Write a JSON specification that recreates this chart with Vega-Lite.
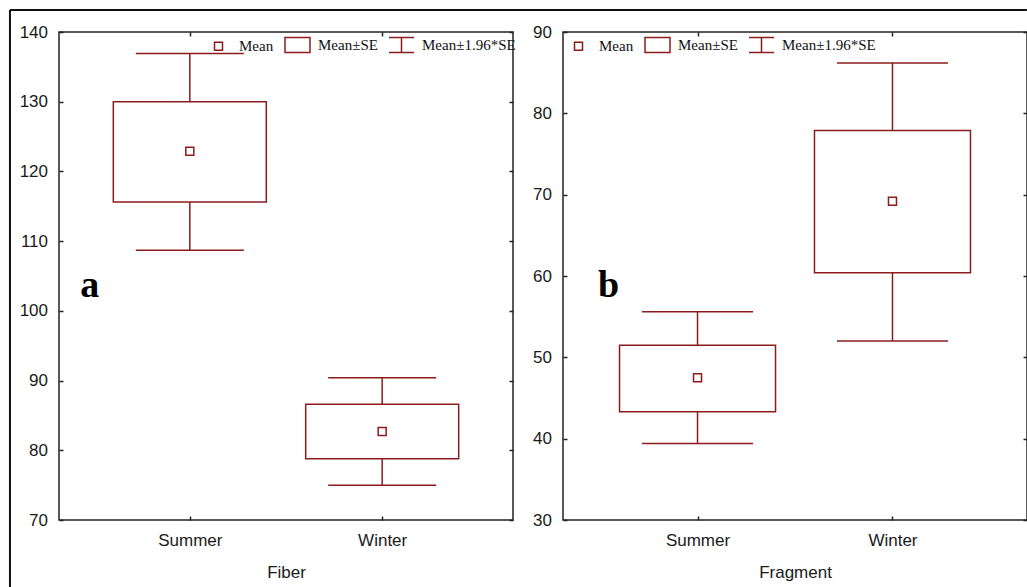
{
  "$schema": "https://vega.github.io/schema/vega-lite/v6.json",
  "background": "white",
  "padding": {"left": 8, "top": 8, "right": 0, "bottom": 0},
  "autosize": {"type": "pad"},
  "spacing": 50,
  "bounds": "flush",
  "resolve": {"scale": {"shape": "independent"}, "legend": {"shape": "independent"}},
  "datasets": {
    "fiber": [
      {"season": "Summer", "mean": 122.9, "se_lo": 115.6, "se_hi": 130.0, "ci_lo": 108.7, "ci_hi": 136.9},
      {"season": "Winter", "mean": 82.7, "se_lo": 78.8, "se_hi": 86.6, "ci_lo": 75.0, "ci_hi": 90.4}
    ],
    "fragment": [
      {"season": "Summer", "mean": 47.5, "se_lo": 43.3, "se_hi": 51.5, "ci_lo": 39.4, "ci_hi": 55.6},
      {"season": "Winter", "mean": 69.2, "se_lo": 60.4, "se_hi": 77.9, "ci_lo": 52.0, "ci_hi": 86.2}
    ]
  },
  "hconcat": [
    {
      "width": 454,
      "height": 488,
      "data": {"name": "fiber"},
      "resolve": {"scale": {"x": "independent"}, "axis": {"x": "independent", "y": "independent"}},
      "layer": [
        {
          "data": {"values": [{"part": "frame"}]},
          "layer": [
            {
              "mark": {"type": "rule", "clip": false, "color": "#111", "strokeWidth": 2},
              "encoding": {
                "x": {"datum": -0.108, "type": "quantitative", "scale": {"domain": [0, 1]}, "axis": null},
                "x2": {"datum": 2.132},
                "y": {"datum": 143.16, "type": "quantitative", "scale": {"domain": [70, 140]}, "axis": null}
              }
            },
            {
              "mark": {"type": "rule", "clip": false, "color": "#111", "strokeWidth": 2},
              "encoding": {
                "x": {"datum": -0.108, "type": "quantitative", "scale": {"domain": [0, 1]}, "axis": null},
                "y": {"datum": 143.16, "type": "quantitative", "scale": {"domain": [70, 140]}, "axis": null},
                "y2": {"datum": 60.4}
              }
            }
          ]
        },
        {
          "encoding": {
            "x": {"field": "season", "type": "nominal", "title": "Fiber",
                  "scale": {"type": "point", "padding": 0.68, "domain": ["Summer", "Winter"]},
                  "axis": {"orient": "bottom"}}
          },
          "layer": [
            {
              "mark": {"type": "rule", "color": "#8b1c1c", "strokeWidth": 1.5},
              "encoding": {
                "y": {"field": "se_hi", "type": "quantitative", "title": null, "scale": {"domain": [70, 140]}, "axis": {"values": [70, 80, 90, 100, 110, 120, 130, 140]}},
                "y2": {"field": "ci_hi"}
              }
            },
            {
              "mark": {"type": "rule", "color": "#8b1c1c", "strokeWidth": 1.5},
              "encoding": {
                "y": {"field": "ci_lo", "type": "quantitative", "title": null, "scale": {"domain": [70, 140]}, "axis": {"values": [70, 80, 90, 100, 110, 120, 130, 140]}},
                "y2": {"field": "se_lo"}
              }
            },
            {
              "mark": {"type": "tick", "orient": "horizontal", "color": "#8b1c1c", "size": 108, "thickness": 1.5, "opacity": 1},
              "encoding": {
                "y": {"field": "ci_hi", "type": "quantitative", "title": null, "scale": {"domain": [70, 140]}, "axis": {"values": [70, 80, 90, 100, 110, 120, 130, 140]}}
              }
            },
            {
              "mark": {"type": "tick", "orient": "horizontal", "color": "#8b1c1c", "size": 108, "thickness": 1.5, "opacity": 1},
              "encoding": {
                "y": {"field": "ci_lo", "type": "quantitative", "title": null, "scale": {"domain": [70, 140]}, "axis": {"values": [70, 80, 90, 100, 110, 120, 130, 140]}}
              }
            },
            {
              "mark": {"type": "bar", "size": 153, "fill": "white", "stroke": "#8b1c1c", "strokeWidth": 1.5},
              "encoding": {
                "y": {"field": "se_lo", "type": "quantitative", "title": null, "scale": {"domain": [70, 140]}, "axis": {"values": [70, 80, 90, 100, 110, 120, 130, 140]}},
                "y2": {"field": "se_hi"}
              }
            },
            {
              "mark": {"type": "point", "filled": false, "color": "#8b1c1c", "size": 625, "strokeWidth": 1.5, "opacity": 1},
              "encoding": {
                "y": {"field": "mean", "type": "quantitative", "title": null, "scale": {"domain": [70, 140]}, "axis": {"values": [70, 80, 90, 100, 110, 120, 130, 140]}},
                "shape": {
                  "datum": "Mean", "type": "nominal",
                  "scale": {
                    "domain": ["Mean", "Mean±SE", "Mean±1.96*SE"],
                    "range": [
                      "M-0.32,-0.32L0.32,-0.32L0.32,0.32L-0.32,0.32Z",
                      "M-1,-0.6L1,-0.6L1,0.6L-1,0.6Z",
                      "M-1,-0.6L1,-0.6M0,-0.6L0,0.6M-1,0.6L1,0.6"
                    ]
                  },
                  "legend": {"orient": "none", "legendX": 146, "legendY": -0.5, "direction": "horizontal", "title": null}
                }
              }
            },
            {
              "data": {"values": [{"label": "a"}]},
              "mark": {"type": "text", "font": "Liberation Serif", "fontWeight": "bold", "fontSize": 38, "color": "#000", "align": "center", "baseline": "alphabetic", "dx": -100},
              "encoding": {
                "x": {"datum": "Summer", "type": "nominal"},
                "y": {"datum": 102, "type": "quantitative", "title": null, "scale": {"domain": [70, 140]}, "axis": {"values": [70, 80, 90, 100, 110, 120, 130, 140]}},
                "text": {"field": "label"}
              }
            }
          ]
        },
        {
          "mark": {"type": "point", "opacity": 0},
          "encoding": {
            "x": {"field": "season", "type": "nominal",
                  "scale": {"type": "point", "padding": 0.68, "domain": ["Summer", "Winter"]},
                  "axis": {"orient": "top", "labels": false, "title": null}},
            "y": {"field": "mean", "type": "quantitative", "scale": {"domain": [70, 140]},
                  "axis": {"orient": "right", "labels": false, "title": null, "values": [70, 80, 90, 100, 110, 120, 130, 140]}}
          }
        }
      ]
    },
    {
      "width": 464,
      "height": 488,
      "data": {"name": "fragment"},
      "resolve": {"axis": {"x": "independent", "y": "independent"}},
      "layer": [
        {
          "encoding": {
            "x": {"field": "season", "type": "nominal", "title": "Fragment",
                  "scale": {"type": "point", "padding": 0.69, "domain": ["Summer", "Winter"]},
                  "axis": {"orient": "bottom"}}
          },
          "layer": [
            {
              "mark": {"type": "rule", "color": "#8b1c1c", "strokeWidth": 1.5},
              "encoding": {
                "y": {"field": "se_hi", "type": "quantitative", "title": null, "scale": {"domain": [30, 90]}, "axis": {"values": [30, 40, 50, 60, 70, 80, 90]}},
                "y2": {"field": "ci_hi"}
              }
            },
            {
              "mark": {"type": "rule", "color": "#8b1c1c", "strokeWidth": 1.5},
              "encoding": {
                "y": {"field": "ci_lo", "type": "quantitative", "title": null, "scale": {"domain": [30, 90]}, "axis": {"values": [30, 40, 50, 60, 70, 80, 90]}},
                "y2": {"field": "se_lo"}
              }
            },
            {
              "mark": {"type": "tick", "orient": "horizontal", "color": "#8b1c1c", "size": 111, "thickness": 1.5, "opacity": 1},
              "encoding": {
                "y": {"field": "ci_hi", "type": "quantitative", "title": null, "scale": {"domain": [30, 90]}, "axis": {"values": [30, 40, 50, 60, 70, 80, 90]}}
              }
            },
            {
              "mark": {"type": "tick", "orient": "horizontal", "color": "#8b1c1c", "size": 111, "thickness": 1.5, "opacity": 1},
              "encoding": {
                "y": {"field": "ci_lo", "type": "quantitative", "title": null, "scale": {"domain": [30, 90]}, "axis": {"values": [30, 40, 50, 60, 70, 80, 90]}}
              }
            },
            {
              "mark": {"type": "bar", "size": 156, "fill": "white", "stroke": "#8b1c1c", "strokeWidth": 1.5},
              "encoding": {
                "y": {"field": "se_lo", "type": "quantitative", "title": null, "scale": {"domain": [30, 90]}, "axis": {"values": [30, 40, 50, 60, 70, 80, 90]}},
                "y2": {"field": "se_hi"}
              }
            },
            {
              "mark": {"type": "point", "filled": false, "color": "#8b1c1c", "size": 625, "strokeWidth": 1.5, "opacity": 1},
              "encoding": {
                "y": {"field": "mean", "type": "quantitative", "title": null, "scale": {"domain": [30, 90]}, "axis": {"values": [30, 40, 50, 60, 70, 80, 90]}},
                "shape": {
                  "datum": "Mean", "type": "nominal",
                  "scale": {
                    "domain": ["Mean", "Mean±SE", "Mean±1.96*SE"],
                    "range": [
                      "M-0.32,-0.32L0.32,-0.32L0.32,0.32L-0.32,0.32Z",
                      "M-1,-0.6L1,-0.6L1,0.6L-1,0.6Z",
                      "M-1,-0.6L1,-0.6M0,-0.6L0,0.6M-1,0.6L1,0.6"
                    ]
                  },
                  "legend": {"orient": "none", "legendX": 2, "legendY": -0.5, "direction": "horizontal", "title": null}
                }
              }
            },
            {
              "data": {"values": [{"label": "b"}]},
              "mark": {"type": "text", "font": "Liberation Serif", "fontWeight": "bold", "fontSize": 38, "color": "#000", "align": "center", "baseline": "alphabetic", "dx": -89},
              "encoding": {
                "x": {"datum": "Summer", "type": "nominal"},
                "y": {"datum": 57.4, "type": "quantitative", "title": null, "scale": {"domain": [30, 90]}, "axis": {"values": [30, 40, 50, 60, 70, 80, 90]}},
                "text": {"field": "label"}
              }
            }
          ]
        },
        {
          "mark": {"type": "point", "opacity": 0},
          "encoding": {
            "x": {"field": "season", "type": "nominal",
                  "scale": {"type": "point", "padding": 0.69, "domain": ["Summer", "Winter"]},
                  "axis": {"orient": "top", "labels": false, "title": null}},
            "y": {"field": "mean", "type": "quantitative", "scale": {"domain": [30, 90]},
                  "axis": {"orient": "right", "labels": false, "title": null, "values": [30, 40, 50, 60, 70, 80, 90]}}
          }
        }
      ]
    }
  ],
  "config": {
    "view": {"stroke": "#222", "strokeWidth": 1.5},
    "axis": {
      "domain": false,
      "grid": false,
      "tickSize": -4,
      "tickColor": "#222",
      "tickWidth": 1.5,
      "labelFont": "Liberation Sans",
      "labelFontSize": 17,
      "labelColor": "#1a1a1a",
      "titleFont": "Liberation Sans",
      "titleFontSize": 17,
      "titleFontWeight": "normal",
      "titleColor": "#1a1a1a"
    },
    "axisY": {"labelPadding": 15.5},
    "axisX": {"labelPadding": 16, "labelAngle": 0, "titlePadding": 16},
    "legend": {
      "padding": 0,
      "symbolSize": 625,
      "symbolStrokeWidth": 1.5,
      "symbolStrokeColor": "#8b1c1c",
      "symbolFillColor": "transparent",
      "labelFont": "Liberation Serif",
      "labelFontSize": 15,
      "labelColor": "#111",
      "labelOffset": 7,
      "columnPadding": 8,
      "symbolOffset": 0
    }
  }
}
